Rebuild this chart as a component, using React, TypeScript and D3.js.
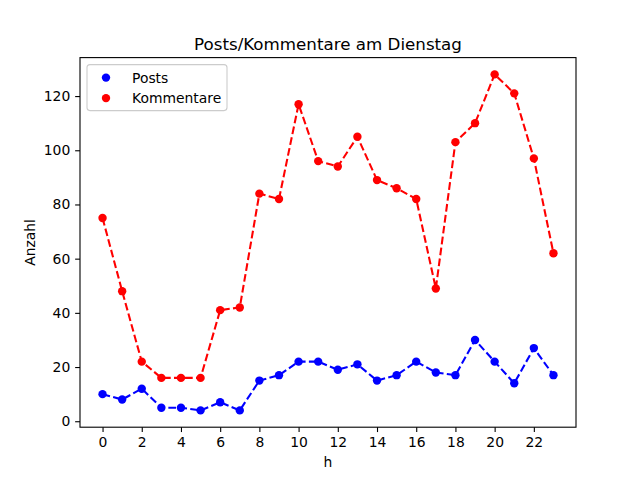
import React, { useRef, useEffect } from 'react';
import * as d3 from 'd3';

const hours = d3.range(0, 24);
const posts = [10, 8, 12, 5, 5, 4, 7, 4, 15, 17, 22, 22, 19, 21, 15, 17, 22, 18, 17, 30, 22, 14, 27, 17];
const kommentare = [75, 48, 22, 16, 16, 16, 41, 42, 84, 82, 117, 96, 94, 105, 89, 86, 82, 49, 103, 110, 128, 121, 97, 62];
const xTicks = [0, 2, 4, 6, 8, 10, 12, 14, 16, 18, 20, 22];
const yTicks = [0, 20, 40, 60, 80, 100, 120];

const seriesList = [
  { name: 'Posts', values: posts, color: '#0000ff' },
  { name: 'Kommentare', values: kommentare, color: '#ff0000' },
];

const App: React.FC = () => {
  const svgRef = useRef<SVGSVGElement>(null);

  useEffect(() => {
    if (!svgRef.current) return;
    const svg = d3.select(svgRef.current);
    svg.selectAll('*').remove();

    const W = 640, H = 480;
    const margin = { top: 57.6, right: 64, bottom: 52.8, left: 80 };
    const width = W - margin.left - margin.right;
    const height = H - margin.top - margin.bottom;
    const font = 'DejaVu Sans, sans-serif';

    const allVals = posts.concat(kommentare);
    const yMin = d3.min(allVals)!;
    const yMax = d3.max(allVals)!;
    const yPad = (yMax - yMin) * 0.05;
    const xPad = 23 * 0.05;

    const x = d3.scaleLinear().domain([-xPad, 23 + xPad]).range([0, width]);
    const y = d3.scaleLinear().domain([yMin - yPad, yMax + yPad]).range([height, 0]);

    svg.append('rect').attr('width', W).attr('height', H).attr('fill', '#fff');

    const chart = svg.append('g').attr('transform', `translate(${margin.left},${margin.top})`);

    // X axis
    const xAxis = chart.append('g')
      .attr('transform', `translate(0,${height})`)
      .call(d3.axisBottom(x).tickValues(xTicks).tickSize(4.86).tickPadding(4.9).tickFormat(d3.format('d')));
    xAxis.select('.domain').remove();
    xAxis.selectAll('line').attr('stroke', '#000').attr('stroke-width', 1.1);
    xAxis.selectAll('text').style('font-family', font).style('font-size', '13.9px').attr('fill', '#000');

    // Y axis
    const yAxis = chart.append('g')
      .call(d3.axisLeft(y).tickValues(yTicks).tickSize(4.86).tickPadding(4.9).tickFormat(d3.format('d')));
    yAxis.select('.domain').remove();
    yAxis.selectAll('line').attr('stroke', '#000').attr('stroke-width', 1.1);
    yAxis.selectAll('text').style('font-family', font).style('font-size', '13.9px').attr('fill', '#000');

    // Series
    const line = d3.line<number>().x((_, i) => x(hours[i])).y(d => y(d));
    seriesList.forEach(s => {
      chart.append('path')
        .datum(s.values)
        .attr('d', line)
        .attr('fill', 'none')
        .attr('stroke', s.color)
        .attr('stroke-width', 2.08)
        .attr('stroke-dasharray', '7.7,3.3');
      chart.selectAll(null)
        .data(s.values)
        .enter()
        .append('circle')
        .attr('cx', (_, i) => x(hours[i]))
        .attr('cy', d => y(d))
        .attr('r', 4.2)
        .attr('fill', s.color);
    });

    // Frame
    chart.append('rect')
      .attr('width', width)
      .attr('height', height)
      .attr('fill', 'none')
      .attr('stroke', '#000')
      .attr('stroke-width', 1.1);

    // Title
    svg.append('text')
      .attr('x', margin.left + width / 2)
      .attr('y', margin.top - 8)
      .attr('text-anchor', 'middle')
      .style('font-family', font)
      .style('font-size', '16.7px')
      .text('Posts/Kommentare am Dienstag');

    // Axis labels
    svg.append('text')
      .attr('x', margin.left + width / 2)
      .attr('y', H - 13)
      .attr('text-anchor', 'middle')
      .style('font-family', font)
      .style('font-size', '13.9px')
      .text('h');

    svg.append('text')
      .attr('transform', `translate(35,${margin.top + height / 2}) rotate(-90)`)
      .attr('text-anchor', 'middle')
      .style('font-family', font)
      .style('font-size', '13.9px')
      .text('Anzahl');

    // Legend
    const legend = chart.append('g').attr('transform', 'translate(7,7)');
    legend.append('rect')
      .attr('width', 140)
      .attr('height', 46)
      .attr('rx', 3)
      .attr('fill', '#fff')
      .attr('fill-opacity', 0.8)
      .attr('stroke', '#cccccc')
      .attr('stroke-width', 1.1);
    seriesList.forEach((s, i) => {
      const row = legend.append('g').attr('transform', `translate(0,${13 + i * 20.5})`);
      row.append('circle').attr('cx', 19).attr('cy', 0).attr('r', 4.2).attr('fill', s.color);
      row.append('text')
        .attr('x', 45)
        .attr('y', 5)
        .style('font-family', font)
        .style('font-size', '13.9px')
        .text(s.name);
    });
  }, []);

  return <svg ref={svgRef} width={640} height={480} style={{ display: 'block', margin: -8 }}></svg>;
};

export default App;
